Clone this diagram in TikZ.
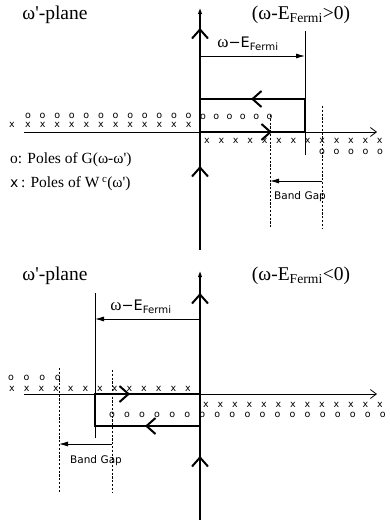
\documentclass[tikz,border=0pt]{standalone}
\usepackage{fontspec}
\setmainfont{Liberation Serif}
\newfontfamily\dv{DejaVu Sans}
\usetikzlibrary{arrows.meta,decorations.markings}
\tikzset{
  axisline/.style={line width=0.8pt,-{Straight Barb[length=6pt,width=9pt,line width=0.8pt]}},
  contour/.style={line width=2pt},
  thinv/.style={line width=0.9pt},
  dimarrow/.style={line width=0.8pt,-{Latex[length=9pt,width=5pt]}},
  gapline/.style={line width=0.7pt,dash pattern=on 2.2pt off 1.6pt},
  pole/.style={inner sep=0pt,font=\dv\fontsize{9.5}{10}\selectfont},
  chevat/.style={postaction={decorate,decoration={markings,mark=at position #1 with {\arrow{Straight Barb[length=9pt,width=16pt,line width=2pt]}}}}},
  toptip/.style={-{Latex[length=9pt,width=4pt]}},
  bigtxt/.style={inner sep=0pt,font=\fontsize{19.5}{22}\selectfont},
  legtxt/.style={inner sep=0pt,anchor=west,font=\fontsize{15.5}{18}\selectfont},
  dimtxt/.style={inner sep=0pt},
  gaptxt/.style={inner sep=0pt,font=\dv\fontsize{10.5}{12}\selectfont},
}
\newcommand{\omE}{{\fontsize{17}{19}\selectfont ω}{\dv\fontsize{14.5}{17}\selectfont −E\textsubscript{Fermi}}}
\begin{document}
\begin{tikzpicture}[x=1pt,y=-1pt]
\useasboundingbox (0,0) rectangle (389,525);
% ================= TOP =================
\coordinate (tAxL) at (24,132);
\coordinate (tAxR) at (377,132);
\coordinate (tVb) at (200,250);
\coordinate (tVt) at (200,5);
\coordinate (tO) at (200,132);
\coordinate (tR) at (305,132);
\coordinate (tRu) at (305,99);
\coordinate (tLu) at (200,99);
\node[bigtxt] (plane1) at (55,15) {ω\textquotesingle-plane};
\node[bigtxt] (cond1) at (301,15) {(ω-E\textsubscript{Fermi}>0)};
\node[legtxt] (leg1) at (10,160) {o: Poles of G(ω-ω\textquotesingle)};
\node[legtxt] (leg2) at (10,184) {{\dv\fontsize{14}{16}\selectfont x}\,: Poles of W\,\textsuperscript{c}(ω\textquotesingle)};
% poles
\node[pole] (t0) at (12,125) {x};
\foreach \i in {0,...,11} {
  \node[pole] (ta\i) at ({28+14.6*\i},125) {x};
  \node[pole] (tb\i) at ({28+14.6*\i},116) {o};
}
\foreach \i in {0,...,5} \node[pole] (tc\i) at ({203+13.3*\i},117) {o};
\foreach \i in {0,...,12} \node[pole] (td\i) at ({207+14.4*\i},141) {x};
\foreach \i in {0,...,4} \node[pole] (te\i) at ({322+14.5*\i},152) {o};
% lines
\draw[axisline] (tAxL) -- (tAxR);
\coordinate (tWt) at (305,31);
\coordinate (tWb) at (305,155);
\draw[thinv] (tWt) -- (tWb);
\coordinate (tDa) at (200,56);
\coordinate (tDb) at (305,56);
\draw[dimarrow] (tDa) -- (tDb);
\node[dimtxt] (dim1) at (248,44) {\omE};
\coordinate (tG1t) at (270,115);
\coordinate (tG1b) at (270,228);
\coordinate (tG2t) at (322,106);
\coordinate (tG2b) at (322,228);
\draw[gapline] (tG1t) -- (tG1b);
\draw[gapline] (tG2t) -- (tG2b);
\coordinate (tBa) at (322,181);
\coordinate (tBb) at (270,181);
\draw[dimarrow] (tBa) -- (tBb);
\node[gaptxt] (gap1) at (300,197) {Band\,\,Gap};
% contour
\draw[contour,toptip,chevat=84pt,chevat=222pt] (tVb) -- (tVt);
\draw[contour,chevat=72pt] (tO) -- (tR);
\draw[contour,chevat=87pt] (tR) -- (tRu) -- (tLu);
% ================= BOTTOM =================
\coordinate (bAxL) at (24,394);
\coordinate (bAxR) at (377,394);
\coordinate (bVb) at (200,520);
\coordinate (bVt) at (200,268);
\coordinate (bO) at (200,394);
\coordinate (bOd) at (200,426);
\coordinate (bLd) at (95,426);
\coordinate (bL) at (95,394);
\node[bigtxt] (plane2) at (55,276) {ω\textquotesingle-plane};
\node[bigtxt] (cond2) at (301,276) {(ω-E\textsubscript{Fermi}<0)};
\foreach \i in {0,...,3} \node[pole] (ba\i) at ({11+15.6*\i},378) {o};
\foreach \i in {0,...,12} \node[pole] (bb\i) at ({12+14.67*\i},389) {x};
\foreach \i in {0,...,12} \node[pole] (bc\i) at ({206+14.5*\i},405) {x};
\foreach \i in {0,...,18} \node[pole] (bd\i) at ({112+15.05*\i},415) {o};
\draw[axisline] (bAxL) -- (bAxR);
\coordinate (bWt) at (95,293);
\coordinate (bWb) at (95,438);
\draw[thinv] (bWt) -- (bWb);
\coordinate (bDa) at (200,319);
\coordinate (bDb) at (95,319);
\draw[dimarrow] (bDa) -- (bDb);
\node[dimtxt] (dim2) at (141,307) {\omE};
\coordinate (bG1t) at (59,368);
\coordinate (bG1b) at (59,492);
\coordinate (bG2t) at (112,370);
\coordinate (bG2b) at (112,492);
\draw[gapline] (bG1t) -- (bG1b);
\draw[gapline] (bG2t) -- (bG2b);
\coordinate (bBa) at (112,444);
\coordinate (bBb) at (59,444);
\draw[dimarrow] (bBa) -- (bBb);
\node[gaptxt] (gap2) at (96,461) {Band\,\,Gap};
\draw[contour,toptip,chevat=64pt,chevat=227pt] (bVb) -- (bVt);
\draw[contour,chevat=55pt,chevat=172pt] (bOd) -- (bLd) -- (bL) -- (bO);
\end{tikzpicture}
\end{document}
